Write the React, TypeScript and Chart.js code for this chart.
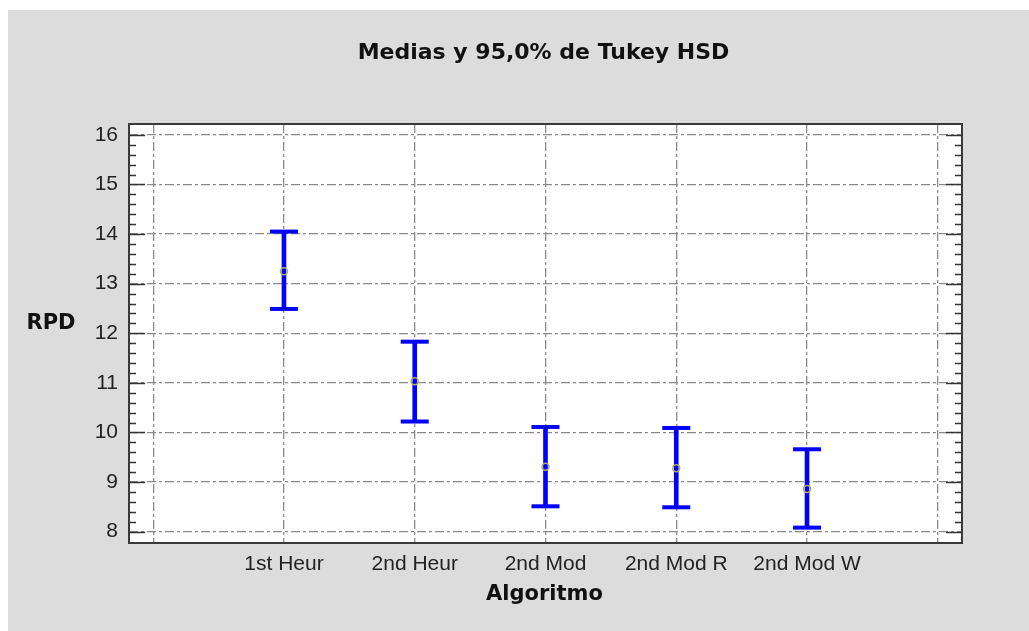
import React, { useEffect, useRef } from 'react';
import { Chart, registerables } from 'chart.js';

Chart.register(...registerables);

const chartTitle = 'Medias y 95,0% de Tukey HSD';
const yAxisTitle = 'RPD';
const xAxisTitle = 'Algoritmo';
const categories = ['1st Heur', '2nd Heur', '2nd Mod', '2nd Mod R', '2nd Mod W'];
const positions = [1, 2, 3, 4, 5];
const means = [13.25, 11.03, 9.31, 9.28, 8.86];
const lower = [12.49, 10.22, 8.51, 8.49, 8.08];
const upper = [14.05, 11.83, 10.11, 10.09, 9.66];
const yTicks = [8, 9, 10, 11, 12, 13, 14, 15, 16];
const xGridPositions = [0, 1, 2, 3, 4, 5, 6];

const BLUE = '#0000ff';

const bgPlugin = {
  id: 'bgPlugin',
  beforeDraw(chart: any) {
    const { ctx, chartArea: a } = chart;
    ctx.save();
    ctx.fillStyle = '#ffffff';
    ctx.fillRect(a.left, a.top, a.right - a.left, a.bottom - a.top);
    ctx.restore();
  },
};

const framePlugin = {
  id: 'framePlugin',
  afterDraw(chart: any) {
    const { ctx, chartArea: a, scales } = chart;
    const y = scales.y;
    ctx.save();
    // inward ticks on left and right
    ctx.strokeStyle = '#333';
    ctx.lineWidth = 1.5;
    const first = yTicks[0];
    const last = yTicks[yTicks.length - 1];
    const steps = Math.round((last - first) / 0.2);
    for (let i = 0; i <= steps; i++) {
      const v = first + i * 0.2;
      const py = Math.round(y.getPixelForValue(v)) + 0.5;
      const len = i % 5 === 0 ? 16 : 7;
      ctx.beginPath();
      ctx.moveTo(a.left, py);
      ctx.lineTo(a.left + len, py);
      ctx.moveTo(a.right, py);
      ctx.lineTo(a.right - len, py);
      ctx.stroke();
    }
    // frame
    ctx.strokeStyle = '#3a3a3a';
    ctx.lineWidth = 2;
    ctx.strokeRect(a.left, a.top, a.right - a.left, a.bottom - a.top);

    // texts
    ctx.fillStyle = '#111';
    ctx.textAlign = 'center';
    ctx.textBaseline = 'middle';
    ctx.font = 'bold 22px "DejaVu Sans"';
    ctx.fillText(chartTitle, (a.left + a.right) / 2 - 2, 43);
    ctx.font = 'bold 21px "DejaVu Sans"';
    ctx.fillText(yAxisTitle, 43, 314);
    ctx.fillText(xAxisTitle, (a.left + a.right) / 2 - 1, 585);
    ctx.restore();
  },
};

export default function App() {
  const canvasRef = useRef<HTMLCanvasElement | null>(null);

  useEffect(() => {
    if (!canvasRef.current) return;
    const chart = new Chart(canvasRef.current, {
      type: 'bar',
      data: {
        datasets: [
          {
            type: 'line',
            label: 'means',
            data: positions.map((p, i) => ({ x: p, y: means[i] })),
            showLine: false,
            pointStyle: 'circle',
            pointRadius: 3.5,
            pointBorderWidth: 1.5,
            pointBorderColor: '#b0ac5c',
            pointBackgroundColor: 'rgba(0,0,0,0)',
            order: 0,
          } as any,
          {
            type: 'line',
            label: 'upper',
            data: positions.map((p, i) => ({ x: p, y: upper[i] })),
            showLine: false,
            pointStyle: 'line',
            pointRadius: 14,
            pointBorderWidth: 4,
            pointBorderColor: BLUE,
            order: 1,
          } as any,
          {
            type: 'line',
            label: 'lower',
            data: positions.map((p, i) => ({ x: p, y: lower[i] })),
            showLine: false,
            pointStyle: 'line',
            pointRadius: 14,
            pointBorderWidth: 4,
            pointBorderColor: BLUE,
            order: 1,
          } as any,
          {
            type: 'bar',
            label: 'interval',
            data: positions.map((p, i) => ({ x: p, y: [lower[i], upper[i]] })),
            backgroundColor: BLUE,
            borderWidth: 0,
            barThickness: 4,
            grouped: false,
            order: 2,
          } as any,
        ],
      },
      options: {
        animation: false,
        responsive: false,
        events: [],
        layout: { padding: { left: 0, top: 114, right: 67, bottom: 0 } },
        plugins: {
          legend: { display: false },
          title: { display: false },
          tooltip: { enabled: false },
        },
        scales: {
          x: {
            type: 'linear',
            min: -0.185,
            max: 6.185,
            offset: false,
            afterBuildTicks: (s: any) => {
              s.ticks = xGridPositions.map((v) => ({ value: v }));
            },
            afterFit: (s: any) => {
              s.height = 88;
            },
            ticks: {
              autoSkip: false,
              maxRotation: 0,
              minRotation: 0,
              padding: 9,
              color: '#222',
              font: { family: '"Liberation Sans"', size: 21 },
              callback: (v: any) => categories[Number(v) - 1] ?? '',
            },
            grid: { offset: false, color: '#8a8a8a', lineWidth: 1.3, drawTicks: false },
            border: { display: false, dash: [9, 3, 3, 3] },
          },
          y: {
            type: 'linear',
            min: 7.77,
            max: 16.22,
            afterBuildTicks: (s: any) => {
              s.ticks = yTicks.map((v) => ({ value: v }));
            },
            afterFit: (s: any) => {
              s.width = 121;
            },
            ticks: {
              padding: 11,
              color: '#222',
              font: { family: '"Liberation Sans"', size: 21 },
            },
            grid: { color: '#8a8a8a', lineWidth: 1.3, drawTicks: false },
            border: { display: false, dash: [9, 3, 3, 3] },
          },
        },
      } as any,
      plugins: [bgPlugin, framePlugin],
    });
    return () => chart.destroy();
  }, []);

  return (
    <div
      style={{
        position: 'absolute',
        left: 8,
        top: 10,
        width: 1021,
        height: 621,
        background: '#dcdcdc',
      }}
    >
      <canvas ref={canvasRef} width={1021} height={621} style={{ display: 'block' }} />
    </div>
  );
}
